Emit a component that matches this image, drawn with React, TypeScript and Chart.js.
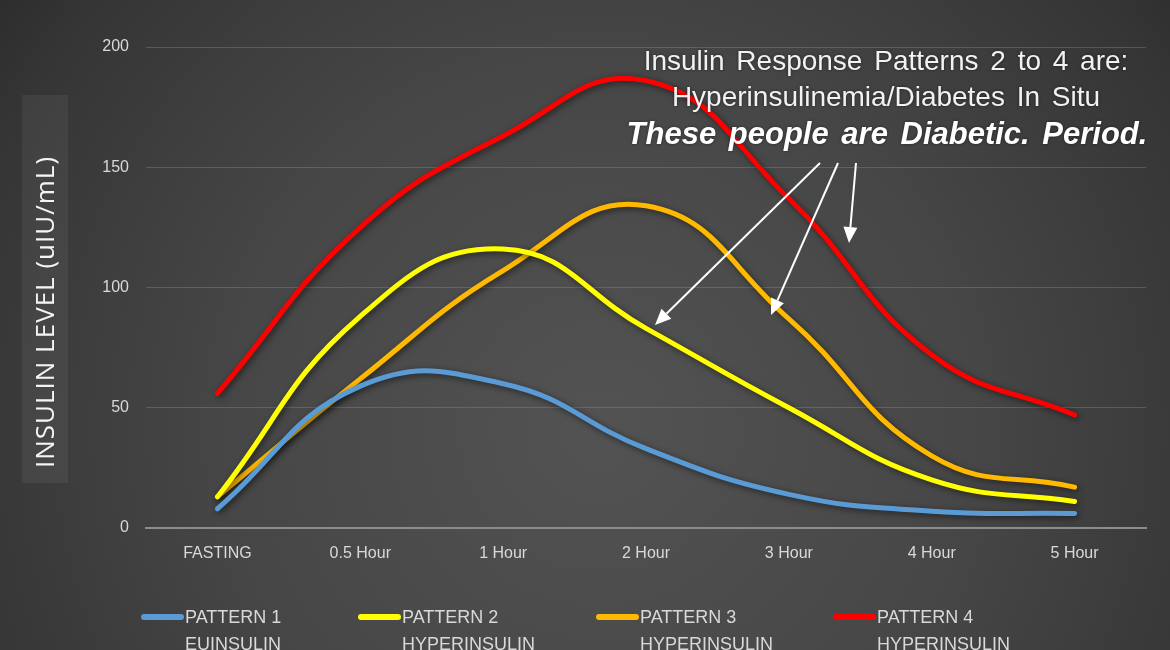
import React, { useEffect, useRef } from "react";
import { Chart, registerables } from "chart.js";

Chart.register(...registerables);

const categories = ["FASTING", "0.5 Hour", "1 Hour", "2 Hour", "3 Hour", "4 Hour", "5 Hour"];
const pattern1 = [8, 59, 60, 33, 14, 7, 6];
const pattern2 = [13, 88, 116, 83, 50, 20, 11];
const pattern3 = [13, 62, 107, 134, 87, 30, 17];
const pattern4 = [56, 125, 163, 186, 137, 72, 47];
const seriesNames = ["PATTERN 1", "PATTERN 2", "PATTERN 3", "PATTERN 4"];
const seriesSubNames = ["EUINSULIN", "HYPERINSULIN", "HYPERINSULIN", "HYPERINSULIN"];
const seriesColors = ["#5b9bd5", "#ffff00", "#ffb900", "#ff0000"];
const yTicks = [0, 50, 100, 150, 200];
const yTitle = "INSULIN LEVEL (uIU/mL)";
const noteLines = [
  "Insulin Response Patterns 2 to 4 are:",
  "Hyperinsulinemia/Diabetes In Situ",
  "These people are Diabetic. Period.",
];

const narrow = "'Liberation Sans Narrow', 'Liberation Sans', sans-serif";

const bgPlugin = {
  id: "bg",
  beforeDraw(chart: any) {
    const { ctx, width, height } = chart;
    ctx.save();
    const g = ctx.createRadialGradient(600, 430, 20, 600, 430, 820);
    g.addColorStop(0, "#525252");
    g.addColorStop(0.45, "#464646");
    g.addColorStop(0.8, "#353535");
    g.addColorStop(1, "#262626");
    ctx.fillStyle = g;
    ctx.fillRect(0, 0, width, height);
    // y title box
    ctx.fillStyle = "rgba(255,255,255,0.06)";
    ctx.fillRect(22, 95, 46, 388);
    ctx.translate(47, 312);
    ctx.rotate(-Math.PI / 2);
    ctx.fillStyle = "#f4f4f4";
    ctx.font = "26px 'Open Sans', sans-serif";
    (ctx as any).letterSpacing = "1px";
    ctx.textAlign = "center";
    ctx.textBaseline = "middle";
    ctx.fillText(yTitle, 0, 0);
    ctx.restore();
  },
};

const shadowPlugin = {
  id: "lineShadow",
  beforeDatasetsDraw(chart: any) {
    const ctx = chart.ctx;
    ctx.save();
    ctx.shadowColor = "rgba(0,0,0,0.55)";
    ctx.shadowBlur = 6;
    ctx.shadowOffsetX = 2;
    ctx.shadowOffsetY = 2;
  },
  afterDatasetsDraw(chart: any) {
    chart.ctx.restore();
  },
};

function arrow(ctx: any, x1: number, y1: number, x2: number, y2: number) {
  const ang = Math.atan2(y2 - y1, x2 - x1);
  const head = 16;
  const hw = 7;
  const bx = x2 - head * Math.cos(ang);
  const by = y2 - head * Math.sin(ang);
  ctx.beginPath();
  ctx.moveTo(x1, y1);
  ctx.lineTo(bx, by);
  ctx.stroke();
  ctx.beginPath();
  ctx.moveTo(x2, y2);
  ctx.lineTo(bx + hw * Math.sin(ang), by - hw * Math.cos(ang));
  ctx.lineTo(bx - hw * Math.sin(ang), by + hw * Math.cos(ang));
  ctx.closePath();
  ctx.fill();
}

const notePlugin = {
  id: "notes",
  afterDraw(chart: any) {
    const ctx = chart.ctx;
    ctx.save();
    ctx.fillStyle = "#f2f2f2";
    ctx.textAlign = "center";
    ctx.textBaseline = "middle";
    ctx.shadowColor = "rgba(0,0,0,0.5)";
    ctx.shadowBlur = 3;
    (ctx as any).wordSpacing = "4px";
    ctx.font = "28px 'Liberation Sans', Arial, sans-serif";
    ctx.fillText(noteLines[0], 886, 62);
    ctx.fillText(noteLines[1], 886, 98);
    ctx.fillStyle = "#ffffff";
    ctx.font = "italic bold 31px 'Liberation Sans', Arial, sans-serif";
    ctx.fillText(noteLines[2], 887, 135);
    (ctx as any).wordSpacing = "0px";
    ctx.shadowBlur = 0;
    ctx.strokeStyle = "#ffffff";
    ctx.fillStyle = "#ffffff";
    ctx.lineWidth = 2;
    arrow(ctx, 820, 163, 655, 325);
    arrow(ctx, 838, 163, 771, 315);
    arrow(ctx, 856, 163, 849, 243);

    // legend
    const starts = [141, 358, 596, 833];
    ctx.font = "18px " + narrow;
    ctx.textAlign = "left";
    chart.data.datasets.forEach((ds: any, i: number) => {
      const x = starts[i];
      ctx.strokeStyle = ds.borderColor;
      ctx.lineWidth = 6;
      ctx.lineCap = "round";
      ctx.beginPath();
      ctx.moveTo(x + 3, 617);
      ctx.lineTo(x + 40, 617);
      ctx.stroke();
      ctx.fillStyle = "#d9d9d9";
      ctx.fillText(seriesNames[i], x + 44, 618);
      ctx.fillText(seriesSubNames[i], x + 44, 645);
    });
    ctx.restore();
  },
};

export default function App() {
  const ref = useRef<HTMLCanvasElement>(null);
  useEffect(() => {
    document.body.style.margin = "0";
    const datasets = [pattern1, pattern2, pattern3, pattern4].map((d, i) => ({
      label: seriesNames[i],
      data: d,
      borderColor: seriesColors[i],
      backgroundColor: seriesColors[i],
      borderWidth: 5,
      pointRadius: 0,
      tension: 0.45,
      borderCapStyle: "round" as const,
      fill: false,
    }));
    const chart = new Chart(ref.current!, {
      type: "line",
      data: { labels: categories, datasets },
      options: {
        animation: false,
        responsive: false,
        layout: { padding: { top: 47, right: 24, bottom: 72, left: 0 } },
        plugins: { legend: { display: false }, tooltip: { enabled: false } },
        scales: {
          x: {
            offset: true,
            grid: { display: false },
            border: { display: true, color: "#8c8c8c", width: 2 },
            ticks: { color: "#d9d9d9", font: { family: narrow, size: 16 }, padding: 8, maxRotation: 0 },
            afterFit: (s: any) => { s.height = 50; },
          },
          y: {
            min: 0,
            max: 200,
            afterBuildTicks: (s: any) => { s.ticks = yTicks.map((v) => ({ value: v })); },
            grid: { color: "rgba(150,150,150,0.35)", lineWidth: 1, drawTicks: false },
            border: { display: false },
            ticks: { color: "#d9d9d9", font: { family: narrow, size: 16 }, padding: 17 },
            afterFit: (s: any) => { s.width = 146; },
          },
        },
      },
      plugins: [bgPlugin, shadowPlugin, notePlugin],
    });
    return () => chart.destroy();
  }, []);
  return <canvas ref={ref} width={1170} height={650} style={{ display: "block", width: 1170, height: 650 }} />;
}
